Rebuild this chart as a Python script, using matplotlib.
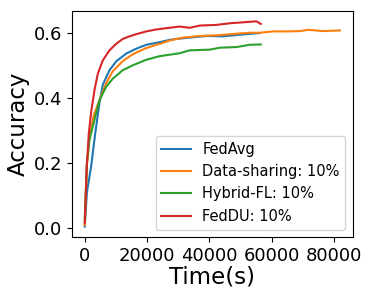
import matplotlib
matplotlib.use("Agg")
import matplotlib.pyplot as plt

# values
fedavg_t = [0, 700, 2050, 3340, 4720, 5780, 7940, 10080, 13300, 16500, 19730,
            24000, 27200, 29370, 33640, 39000, 44340, 49700, 56130]
fedavg_acc = [0.005, 0.11, 0.19, 0.29, 0.385, 0.440, 0.485, 0.512, 0.536, 0.551, 0.563,
              0.571, 0.578, 0.581, 0.585, 0.590, 0.589, 0.594, 0.599]

share_t = [0, 650, 1510, 3000, 4720, 6860, 9000, 12200, 15400, 19730, 24000,
           27200, 31500, 36850, 42200, 48640, 52900, 56130, 60400, 64700, 69000,
           71650, 76470, 81830]
share_acc = [0.01, 0.19, 0.28, 0.35, 0.393, 0.445, 0.482, 0.513, 0.534, 0.553, 0.566,
             0.576, 0.585, 0.590, 0.592, 0.597, 0.600, 0.600, 0.604, 0.604, 0.605,
             0.609, 0.605, 0.607]

hybrid_t = [0, 700, 1500, 2050, 3300, 4720, 6860, 9000, 12200, 15400, 19730,
            24000, 30430, 33640, 40070, 43280, 48640, 52900, 56450]
hybrid_acc = [0.03, 0.20, 0.27, 0.292, 0.34, 0.393, 0.434, 0.459, 0.485, 0.500, 0.517,
              0.528, 0.537, 0.546, 0.548, 0.554, 0.556, 0.563, 0.564]

feddu_t = [0, 650, 1290, 2100, 3120, 4180, 5780, 7940, 10080, 12200, 14360,
           17030, 19730, 22940, 26150, 30430, 33640, 36850, 42200, 46500, 50770,
           55070, 56450]
feddu_acc = [0.016, 0.19, 0.29, 0.36, 0.423, 0.474, 0.515, 0.546, 0.566, 0.581, 0.589,
             0.597, 0.604, 0.610, 0.614, 0.619, 0.615, 0.622, 0.624, 0.629, 0.632,
             0.635, 0.627]

fig = plt.figure(figsize=(3.74, 2.99), dpi=100)
ax = fig.add_axes([0.1925, 0.208, 0.7505, 0.755])
ax.plot(fedavg_t, fedavg_acc, label="FedAvg", lw=1.5)
ax.plot(share_t, share_acc, label="Data-sharing: 10%", lw=1.5)
ax.plot(hybrid_t, hybrid_acc, label="Hybrid-FL: 10%", lw=1.5)
ax.plot(feddu_t, feddu_acc, label="FedDU: 10%", lw=1.5)

ax.set_xticks([0, 20000, 40000, 60000, 80000])
ax.set_yticks([0.0, 0.2, 0.4, 0.6])
ax.tick_params(labelsize=13)
ax.set_xlabel("Time(s)", fontsize=16.5, labelpad=1)
ax.set_ylabel("Accuracy", fontsize=16.5, labelpad=3)
ax.legend(loc="lower right", fontsize=10.5)

fig.savefig("out.png", dpi=100)
